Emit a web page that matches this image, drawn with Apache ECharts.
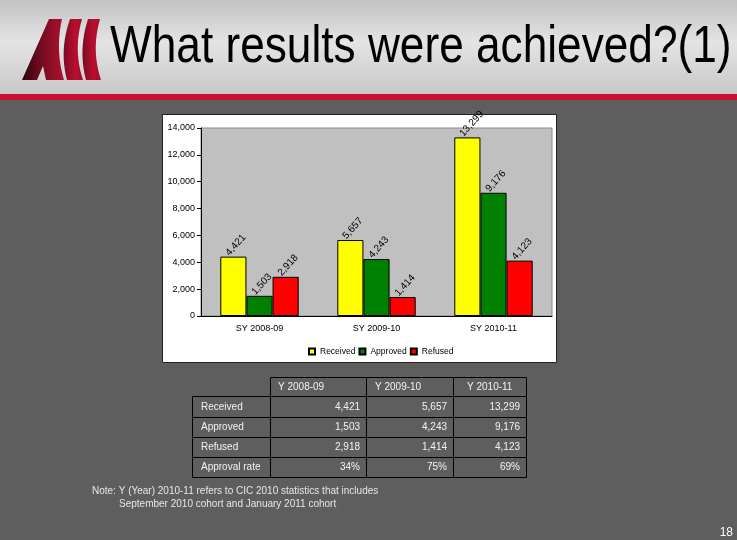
<!DOCTYPE html>
<html>
<head>
<meta charset="utf-8">
<script src="https://cdn.jsdelivr.net/npm/echarts@6/dist/echarts.min.js"></script>
<style>
html,body{margin:0;padding:0;background:#5e5e5e;}
#c{width:737px;height:540px;}
</style>
</head>
<body>
<div id="c"></div>
<script>
const categories = ['SY 2008-09', 'SY 2009-10', 'SY 2010-11'];
const seriesNames = ['Received', 'Approved', 'Refused'];
const received = [4421, 5657, 13299];
const approved = [1503, 4243, 9176];
const refused = [2918, 1414, 4123];
const approvalRate = ['34%', '75%', '69%'];
const tableHeaders = ['Y 2008-09', 'Y 2009-10', 'Y 2010-11'];
const rowLabels = ['Received', 'Approved', 'Refused', 'Approval rate'];
const titleText = 'What results were achieved?(1)';
const noteLines = ['Note: Y (Year) 2010-11 refers to CIC 2010 statistics that includes',
                   'September 2010 cohort and January 2011 cohort'];
const pageNumber = '18';

const fmt = v => String(v).replace(/\B(?=(\d{3})+(?!\d))/g, ',');
const FONT = 'Liberation Sans, Arial, sans-serif';

const chart = echarts.init(document.getElementById('c'));

// quadratic curve sampler for logo outline
function quad(p0, c, p1, n) {
  const pts = [];
  for (let i = 0; i <= n; i++) {
    const t = i / n, u = 1 - t;
    pts.push([u * u * p0[0] + 2 * u * t * c[0] + t * t * p1[0], u * u * p0[1] + 2 * u * t * c[1] + t * t * p1[1]]);
  }
  return pts;
}
function band(bl, cl, tl, tr, cr, br) {
  return quad(bl, cl, tl, 12).concat(quad(tr, cr, br, 12));
}

const g = [];
// page background
g.push({type: 'rect', z: -100, shape: {x: 0, y: 0, width: 737, height: 94},
  style: {fill: {type: 'linear', x: 0, y: 0, x2: 0, y2: 1, colorStops: [
    {offset: 0, color: '#c2c2c2'}, {offset: 0.45, color: '#e4e4e4'}, {offset: 1, color: '#c8c8c8'}]}}});
g.push({type: 'rect', z: -100, shape: {x: 0, y: 94, width: 737, height: 6}, style: {fill: '#c8102e'}});
g.push({type: 'rect', z: -100, shape: {x: 0, y: 100, width: 737, height: 440}, style: {fill: '#5e5e5e'}});
// logo
const darkGrad = {type: 'linear', x: 0, y: 0, x2: 1, y2: 0, colorStops: [
  {offset: 0, color: '#2a060c'}, {offset: 0.5, color: '#7a0c22'}, {offset: 1, color: '#b0102e'}]};
const redGrad = {type: 'linear', x: 0, y: 0, x2: 1, y2: 0, colorStops: [
  {offset: 0, color: '#7c0a22'}, {offset: 0.6, color: '#b8102f'}, {offset: 1, color: '#a00c2a'}]};
g.push({type: 'polygon', z: -50, shape: {points: [[22, 80], [49, 19], [62, 19]].concat(quad([62, 19], [55, 50], [64, 80], 12)).concat([[46, 80], [43, 66], [37, 80]])}, style: {fill: darkGrad}});
g.push({type: 'polygon', z: -50, shape: {points: band([67, 80], [59, 50], [70, 19], [82, 19], [73, 50], [83, 80])}, style: {fill: redGrad}});
g.push({type: 'polygon', z: -50, shape: {points: band([86, 80], [78, 50], [88, 19], [100, 19], [91, 50], [101, 80])}, style: {fill: redGrad}});
// title
g.push({type: 'text', z: 10, x: 110, y: 48, scaleX: 0.85,
  style: {text: titleText, font: '52px ' + FONT, fill: '#000', textVerticalAlign: 'middle'}});
// chart box
g.push({type: 'rect', z: -20, shape: {x: 162.5, y: 114.5, width: 394, height: 248},
  style: {fill: '#ffffff', stroke: '#222', lineWidth: 1}});
// table
const colX = [192, 270, 366, 453, 526];
const rowY = [377, 396, 417, 437, 457, 477];
const tstroke = {fill: 'none', stroke: '#000', lineWidth: 1};
const headPad = [8, 9, 14];
for (let c = 1; c < 4; c++) {
  g.push({type: 'rect', z: 5, shape: {x: colX[c] + 0.5, y: rowY[0] + 0.5, width: colX[c + 1] - colX[c], height: rowY[1] - rowY[0]}, style: tstroke});
  g.push({type: 'text', z: 6, x: colX[c] + headPad[c - 1], y: (rowY[0] + rowY[1]) / 2 + 0.5,
    style: {text: tableHeaders[c - 1], font: '10px ' + FONT, fill: '#f2f2f2', textVerticalAlign: 'middle'}});
}
const tableRows = [received.map(fmt), approved.map(fmt), refused.map(fmt), approvalRate];
for (let r = 0; r < 4; r++) {
  const y0 = rowY[r + 1], y1 = rowY[r + 2];
  for (let c = 0; c < 4; c++) {
    g.push({type: 'rect', z: 5, shape: {x: colX[c] + 0.5, y: y0 + 0.5, width: colX[c + 1] - colX[c], height: y1 - y0}, style: tstroke});
  }
  g.push({type: 'text', z: 6, x: colX[0] + 9, y: (y0 + y1) / 2 + 0.5,
    style: {text: rowLabels[r], font: '10px ' + FONT, fill: '#f2f2f2', textVerticalAlign: 'middle'}});
  for (let c = 1; c < 4; c++) {
    g.push({type: 'text', z: 6, x: colX[c + 1] - 6, y: (y0 + y1) / 2 + 0.5,
      style: {text: tableRows[r][c - 1], font: '10px ' + FONT, fill: '#f2f2f2', textAlign: 'right', textVerticalAlign: 'middle'}});
  }
}
// note
g.push({type: 'text', z: 6, x: 92, y: 491, style: {text: noteLines[0], font: '10px ' + FONT, fill: '#e6e6e6', textVerticalAlign: 'middle'}});
g.push({type: 'text', z: 6, x: 119, y: 504, style: {text: noteLines[1], font: '10px ' + FONT, fill: '#e6e6e6', textVerticalAlign: 'middle'}});
// page number
g.push({type: 'text', z: 6, x: 733, y: 533, style: {text: pageNumber, font: '12px ' + FONT, fill: '#ffffff', textAlign: 'right', textVerticalAlign: 'middle'}});

const labelCfg = {
  show: true, position: 'top', rotate: 48, align: 'left', verticalAlign: 'middle',
  distance: 9, offset: [-9, 0], fontSize: 10, fontFamily: FONT, color: '#000',
  formatter: p => fmt(p.value)
};
const colors = ['#ffff00', '#008000', '#ff0000'];
const dataSets = [received, approved, refused];

chart.setOption({
  animation: false,
  textStyle: {fontFamily: FONT},
  graphic: {elements: g},
  grid: {left: 201, right: 185, top: 128, bottom: 224, show: true,
    backgroundColor: '#c0c0c0', borderColor: '#8c8c8c', borderWidth: 1},
  legend: {
    data: seriesNames, left: 303, top: 342, itemWidth: 6, itemHeight: 6, itemGap: 3,
    icon: 'rect', textStyle: {fontSize: 8.5, color: '#000', fontFamily: FONT}
  },
  xAxis: {
    type: 'category', data: categories,
    axisLine: {show: true, lineStyle: {color: '#000', width: 1}},
    axisTick: {show: false},
    axisLabel: {fontSize: 9, color: '#000', margin: 8, fontFamily: FONT}
  },
  yAxis: {
    type: 'value', min: 0, max: 14000, interval: 2000,
    splitLine: {show: false},
    axisLine: {show: true, lineStyle: {color: '#000', width: 1}},
    axisTick: {show: true, length: 4, lineStyle: {color: '#000'}},
    axisLabel: {fontSize: 9, color: '#000', margin: 6, fontFamily: FONT, formatter: v => fmt(v)}
  },
  series: seriesNames.map((name, i) => ({
    name, type: 'bar', data: dataSets[i], barGap: '0%', barCategoryGap: '33%',
    itemStyle: {color: colors[i], borderColor: '#000', borderWidth: 1},
    label: labelCfg
  }))
});
</script>
</body>
</html>
